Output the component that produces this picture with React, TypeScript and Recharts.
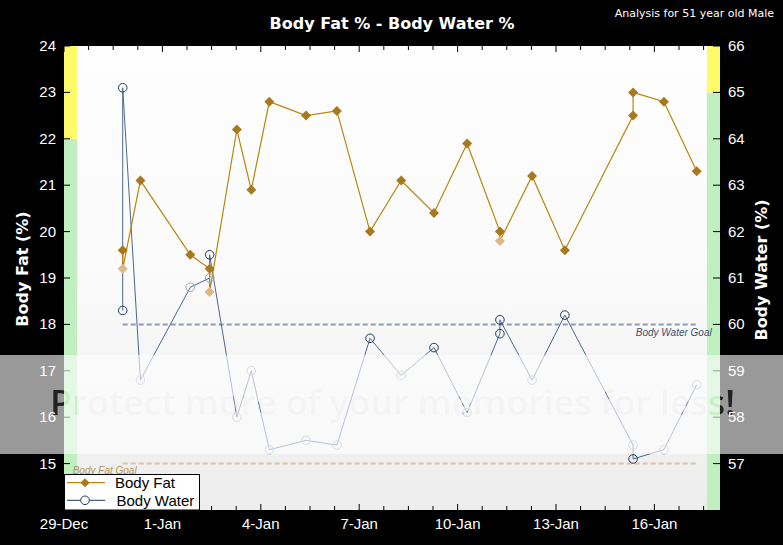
import React from 'react';
import {
  ComposedChart,
  Line,
  XAxis,
  YAxis,
  CartesianGrid,
  ReferenceArea,
  ReferenceLine,
  Legend,
} from 'recharts';

// ---- data (day offsets counted from 29-Dec 00:00) ----
const days = [1.79, 1.79, 2.33, 3.85, 4.44, 4.44, 5.27, 5.71, 6.26, 7.38, 8.32, 9.33, 10.28, 11.28, 12.29, 13.29, 13.29, 14.27, 15.27, 17.35, 17.35, 18.29, 19.29];
const bodyFat = [19.6, 19.2, 21.1, 19.5, 19.2, 18.7, 22.2, 20.9, 22.8, 22.5, 22.6, 20.0, 21.1, 20.4, 21.9, 20.0, 19.8, 21.2, 19.6, 22.5, 23.0, 22.8, 21.3];
const bodyFatReading = ['main', 'extra', 'main', 'main', 'main', 'extra', 'main', 'main', 'main', 'main', 'main', 'main', 'main', 'main', 'main', 'main', 'extra', 'main', 'main', 'main', 'main', 'main', 'main'];
const bodyWater = [60.3, 65.1, 58.8, 60.8, 61.0, 61.5, 58.0, 59.0, 57.3, 57.5, 57.4, 59.7, 58.9, 59.5, 58.1, 59.8, 60.1, 58.8, 60.2, 57.4, 57.1, 57.3, 58.7];
const bodyWaterReading = ['main', 'main', 'extra', 'extra', 'extra', 'main', 'extra', 'extra', 'extra', 'extra', 'extra', 'main', 'extra', 'main', 'extra', 'main', 'main', 'extra', 'main', 'extra', 'main', 'extra', 'extra'];

const dateTickDays = [0, 3, 6, 9, 12, 15, 18];
const dateTickLabels = ['29-Dec', '1-Jan', '4-Jan', '7-Jan', '10-Jan', '13-Jan', '16-Jan'];
const fatTicks = [15, 16, 17, 18, 19, 20, 21, 22, 23, 24];
const waterTicks = [57, 58, 59, 60, 61, 62, 63, 64, 65, 66];

const bodyFatGoal = 15;
const bodyWaterGoal = 60;
const fatRangeGood = [14, 22];
const fatRangeHigh = [22, 24];
const waterRangeGood = [56, 65];
const waterRangeHigh = [65, 66];

const rows = days.map((d, i) => ({
  day: d,
  fat: bodyFat[i],
  water: bodyWater[i],
  fatReading: bodyFatReading[i],
  waterReading: bodyWaterReading[i],
}));

const minorTicks: number[] = [];
for (let i = 0; i <= 26; i++) minorTicks.push(i * 0.75);

const FONT = '"Liberation Sans", Arial, sans-serif';
const BOLD = '"DejaVu Sans", Verdana, sans-serif';
const FAT_LINE = '#b8860b';
const FAT_MARK = '#a8781e';
const WATER_LINE = '#4c6890';
const WATER_DARK = '#1f3a62';
const WATER_LIGHT = '#98a8be';

const labelFor = (v: number) => {
  const i = dateTickDays.findIndex((d) => Math.abs(d - v) < 1e-6);
  return i >= 0 ? dateTickLabels[i] : null;
};

const BottomTick = (p: any) => {
  const { x, y, payload } = p;
  const lab = labelFor(payload.value);
  const len = lab ? 6 : 4;
  return (
    <g>
      <line x1={x} x2={x} y1={y} y2={y - len} stroke="#000" strokeWidth={1} />
      {lab && (
        <text x={x} y={y + 19} textAnchor="middle" fill="#fff" fontSize={15} fontFamily={FONT}>
          {lab}
        </text>
      )}
    </g>
  );
};

const TopTick = (p: any) => {
  const { x, y, payload } = p;
  const lab = labelFor(payload.value);
  const len = lab ? 6 : 4;
  return <line x1={x} x2={x} y1={y} y2={y + len} stroke="#000" strokeWidth={1} />;
};

const LeftTick = (p: any) => {
  const { x, y, payload } = p;
  return (
    <g>
      <line x1={x} x2={x + 6} y1={y} y2={y} stroke="#000" strokeWidth={1} />
      <text x={x - 8} y={y + 5} textAnchor="end" fill="#fff" fontSize={15} fontFamily={FONT}>
        {payload.value}
      </text>
    </g>
  );
};

const RightTick = (p: any) => {
  const { x, y, payload } = p;
  return (
    <g>
      <line x1={x - 7} x2={x} y1={y} y2={y} stroke="#000" strokeWidth={1} />
      <text x={x + 8} y={y + 5} textAnchor="start" fill="#fff" fontSize={15} fontFamily={FONT}>
        {payload.value}
      </text>
    </g>
  );
};

const FatDot = (p: any) => {
  const { cx, cy, index, payload } = p;
  if (cx == null || cy == null) return <g key={`fd${index}`} />;
  const extra = payload.fatReading === 'extra';
  const s = 5;
  return (
    <path
      key={`fd${index}`}
      d={`M${cx},${cy - s}L${cx + s},${cy}L${cx},${cy + s}L${cx - s},${cy}Z`}
      fill={extra ? '#dbb888' : FAT_MARK}
      stroke="none"
    />
  );
};

const WaterDot = (p: any) => {
  const { cx, cy, index, payload } = p;
  if (cx == null || cy == null) return <g key={`wd${index}`} />;
  const extra = payload.waterReading === 'extra';
  return (
    <circle
      key={`wd${index}`}
      cx={cx}
      cy={cy}
      r={4.3}
      fill="none"
      stroke={extra ? WATER_LIGHT : WATER_DARK}
      strokeWidth={1}
    />
  );
};

const LegendBox = () => (
  <svg width={137} height={37} style={{ display: 'block' }}>
    <rect x={0.5} y={0.5} width={135} height={35.5} fill="#fff" stroke="#000" strokeWidth={1} />
    <line x1={3} x2={41} y1={8.7} y2={8.7} stroke={FAT_LINE} strokeWidth={1.2} />
    <path d="M21,4.2L25.5,8.7L21,13.2L16.5,8.7Z" fill={FAT_MARK} />
    <text x={51} y={14} fontSize={15} fontFamily={FONT} fill="#000">Body Fat</text>
    <line x1={3} x2={41} y1={26.3} y2={26.3} stroke={WATER_DARK} strokeWidth={1} />
    <circle cx={21} cy={26.3} r={4.3} fill="#fff" stroke={WATER_DARK} strokeWidth={1} />
    <text x={52.5} y={31.6} fontSize={15} fontFamily={FONT} fill="#000">Body Water</text>
  </svg>
);

export default function App() {
  return (
    <div style={{ position: 'absolute', left: 0, top: 0, width: 783, height: 545, background: '#000', overflow: 'hidden' }}>
      <ComposedChart
        width={783}
        height={545}
        data={rows}
        margin={{ top: 16, right: 0, bottom: 0, left: 0 }}
      >
        <defs>
          <linearGradient id="plotBg" x1="0" y1="0" x2="0" y2="1">
            <stop offset="0%" stopColor="#fefefe" />
            <stop offset="50%" stopColor="#fafafa" />
            <stop offset="100%" stopColor="#ededed" />
          </linearGradient>
        </defs>
        <CartesianGrid fill="url(#plotBg)" horizontal={false} vertical={false} xAxisId="b" yAxisId="fat" />
        <XAxis
          xAxisId="b"
          dataKey="day"
          type="number"
          domain={[0, 20]}
          ticks={minorTicks}
          interval={0}
          height={35}
          tickSize={0}
          tickMargin={0}
          axisLine={false}
          tickLine={false}
          tick={<BottomTick />}
        />
        <XAxis
          xAxisId="t"
          orientation="top"
          dataKey="day"
          type="number"
          domain={[0, 20]}
          ticks={minorTicks}
          interval={0}
          height={30}
          tickSize={0}
          tickMargin={0}
          axisLine={false}
          tickLine={false}
          tick={<TopTick />}
        />
        <YAxis
          yAxisId="fat"
          orientation="left"
          type="number"
          domain={[14, 24]}
          ticks={fatTicks}
          interval={0}
          width={64}
          tickSize={0}
          tickMargin={0}
          axisLine={false}
          tickLine={false}
          tick={<LeftTick />}
          label={() => (
            <text
              transform="translate(28,269) rotate(-90)"
              textAnchor="middle"
              fill="#fff"
              fontSize={16}
              fontWeight="bold"
              fontFamily={BOLD}
            >
              Body Fat (%)
            </text>
          )}
        />
        <YAxis
          yAxisId="water"
          orientation="right"
          type="number"
          domain={[56, 66]}
          ticks={waterTicks}
          interval={0}
          width={63}
          tickSize={0}
          tickMargin={0}
          axisLine={false}
          tickLine={false}
          tick={<RightTick />}
          label={() => (
            <text
              transform="translate(767,270) rotate(-90)"
              textAnchor="middle"
              fill="#fff"
              fontSize={16}
              fontWeight="bold"
              fontFamily={BOLD}
            >
              Body Water (%)
            </text>
          )}
        />

        <ReferenceArea xAxisId="b" yAxisId="fat" x1={0} x2={0.4} y1={fatRangeGood[0]} y2={fatRangeGood[1]} fill="#c0efc0" fillOpacity={1} stroke="none" />
        <ReferenceArea xAxisId="b" yAxisId="fat" x1={0} x2={0.4} y1={fatRangeHigh[0]} y2={fatRangeHigh[1]} fill="#fffa6a" fillOpacity={1} stroke="none" />
        <ReferenceArea xAxisId="b" yAxisId="water" x1={19.6} x2={20} y1={waterRangeGood[0]} y2={waterRangeGood[1]} fill="#c0efc0" fillOpacity={1} stroke="none" />
        <ReferenceArea xAxisId="b" yAxisId="water" x1={19.6} x2={20} y1={waterRangeHigh[0]} y2={waterRangeHigh[1]} fill="#fffa6a" fillOpacity={1} stroke="none" />

        <ReferenceLine
          xAxisId="b"
          yAxisId="water"
          segment={[{ x: days[0], y: bodyWaterGoal }, { x: days[days.length - 1], y: bodyWaterGoal }]}
          stroke="#8a9bb8"
          strokeWidth={2}
          strokeDasharray="5 3"
          label={(props: any) => {
            const vb = props.viewBox || {};
            return (
              <text x={(vb.x || 0) + (vb.width || 0) + 15} y={(vb.y || 0) + 12} textAnchor="end" fill="#3d4f72" fontSize={10} fontStyle="italic" fontFamily={FONT}>
                Body Water Goal
              </text>
            );
          }}
        />
        <ReferenceLine
          xAxisId="b"
          yAxisId="fat"
          segment={[{ x: days[0], y: bodyFatGoal }, { x: days[days.length - 1], y: bodyFatGoal }]}
          stroke="#dfc49c"
          strokeWidth={2}
          strokeDasharray="5 3"
          label={(props: any) => {
            const vb = props.viewBox || {};
            return (
              <text x={(vb.x || 0) - 50} y={(vb.y || 0) + 10} textAnchor="start" fill="#b3935a" fontSize={10} fontStyle="italic" fontFamily={FONT}>
                Body Fat Goal
              </text>
            );
          }}
        />

        <Line
          xAxisId="b"
          yAxisId="water"
          dataKey="water"
          name="Body Water"
          stroke={WATER_LINE}
          strokeWidth={1}
          dot={<WaterDot />}
          activeDot={false}
          isAnimationActive={false}
        />
        <Line
          xAxisId="b"
          yAxisId="fat"
          dataKey="fat"
          name="Body Fat"
          stroke={FAT_LINE}
          strokeWidth={1.2}
          dot={<FatDot />}
          activeDot={false}
          isAnimationActive={false}
        />
        <Legend
          layout="vertical"
          align="center"
          verticalAlign="middle"
          content={() => <LegendBox />}
          wrapperStyle={{ left: 64, top: 474, width: 137, height: 37 }}
        />
      </ComposedChart>

      <svg width={783} height={545} style={{ position: 'absolute', left: 0, top: 0, pointerEvents: 'none' }}>
        <defs>
          <mask id="wmMask">
            <rect x={0} y={355} width={783} height={99} fill="#fff" />
            <text x={50} y={415} fontSize={35} fontFamily='"Open Sans", sans-serif' fontWeight={600} fill="#3a3a3a" textLength={685} lengthAdjust="spacingAndGlyphs">
              Protect more of your memories for less!
            </text>
          </mask>
        </defs>
        <rect x={0} y={355} width={783} height={99} fill="#fff" opacity={0.6} mask="url(#wmMask)" />
        <text x={392} y={29} textAnchor="middle" fill="#fff" fontSize={16} fontWeight="bold" fontFamily={BOLD}>
          Body Fat % - Body Water %
        </text>
        <text x={774} y={17} textAnchor="end" fill="#fff" fontSize={11} fontFamily={BOLD}>
          Analysis for 51 year old Male
        </text>
      </svg>
    </div>
  );
}
